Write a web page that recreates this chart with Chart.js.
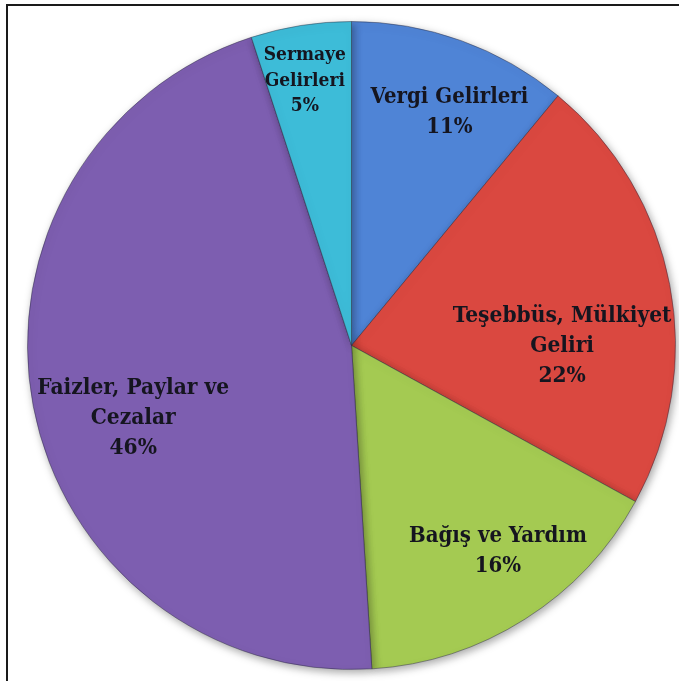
<!DOCTYPE html>
<html>
<head>
<meta charset="utf-8">
<script src="https://cdn.jsdelivr.net/npm/chart.js@4"></script>
<style>
  html, body { margin: 0; padding: 0; background: #fff; }
  #wrap { position: relative; width: 679px; height: 681px; overflow: hidden; }
  #frame { position: absolute; left: 6px; top: 4px; width: 700px; height: 700px;
           border-left: 2px solid #1a1a1a; border-top: 2px solid #1a1a1a; }
  canvas { position: absolute; left: 0; top: 0; }
</style>
</head>
<body>
<div id="wrap">
  <div id="frame"></div>
  <canvas id="gelirChart" width="679" height="681"></canvas>
</div>
<script>
// Gelir dağılımı
const labels = ['Vergi Gelirleri', 'Teşebbüs, Mülkiyet Geliri', 'Bağış ve Yardım', 'Faizler, Paylar ve Cezalar', 'Sermaye Gelirleri'];
const values = [11, 22, 16, 46, 5];
// etiket satırları (dilim içinde)
const labelLines = [
    ['Vergi Gelirleri'],
    ['Teşebbüs, Mülkiyet', 'Geliri'],
    ['Bağış ve Yardım'],
    ['Faizler, Paylar ve', 'Cezalar'],
    ['Sermaye', 'Gelirleri']
];

// renkler: [iç, orta, kenar]
const sliceColors = [
    ['#5a93e3', '#4f84d6', '#3b68b0'],
    ['#e8564e', '#da4840', '#b13730'],
    ['#bbe660', '#a4ca52', '#82a53c'],
    ['#8a69bd', '#7d5eb0', '#634590'],
    ['#48cde8', '#3dbcd8', '#2c9ab8']
];
// etiket yerleşimi: [yarıçap oranı, açı kayması (derece), yazı boyu]
const labelPlace = [[0.78, 3, 22], [0.65, 11, 22.5], [0.78, -3, 22], [0.71, -7.6, 22.5], [0.83, -1, 19]];
const labelFont = '"DejaVu Serif Condensed", "DejaVu Serif", serif';

function sliceFill(context) {
    const chart = context.chart;
    const arc = chart.getDatasetMeta(0).data[context.dataIndex];
    const c = sliceColors[context.dataIndex];
    if (!arc || !arc.outerRadius) return c[1];
    const g = chart.ctx.createRadialGradient(arc.x, arc.y, 0, arc.x, arc.y, arc.outerRadius);
    g.addColorStop(0, c[0]);
    g.addColorStop(0.55, c[1]);
    g.addColorStop(0.93, c[1]);
    g.addColorStop(1, c[2]);
    return g;
}

// dilimlerin altına yumuşak gölge
const shadowPlugin = {
    id: 'pieShadow',
    beforeDatasetsDraw(chart) {
        const ctx = chart.ctx;
        ctx.save();
        ctx.shadowColor = 'rgba(0,0,0,0.35)';
        ctx.shadowBlur = 8;
        ctx.shadowOffsetX = 2;
        ctx.shadowOffsetY = 3;
    },
    afterDatasetsDraw(chart) {
        chart.ctx.restore();
    }
};

// dilim etiketleri + yüzde
const sliceLabels = {
    id: 'sliceLabels',
    afterDatasetsDraw(chart) {
        const ctx = chart.ctx;
        const meta = chart.getDatasetMeta(0);
        const total = values.reduce((a, b) => a + b, 0);
        ctx.save();
        ctx.textAlign = 'center';
        ctx.textBaseline = 'middle';
        ctx.fillStyle = '#15151f';
        meta.data.forEach((arc, i) => {
            const [rf, shift, size] = labelPlace[i];
            const mid = (arc.startAngle + arc.endAngle) / 2 + shift * Math.PI / 180;
            const r = arc.outerRadius * rf;
            const x = arc.x + Math.cos(mid) * r;
            const y = arc.y + Math.sin(mid) * r;
            const lines = labelLines[i].concat([Math.round(values[i] / total * 100) + '%']);
            const lh = Math.min(size * 1.36, 30);
            ctx.font = 'bold ' + size + 'px ' + labelFont;
            lines.forEach((t, k) => {
                ctx.fillText(t, x, y + (k - (lines.length - 1) / 2) * lh);
            });
        });
        ctx.restore();
    }
};

const ctx = document.getElementById('gelirChart').getContext('2d');
const gelirChart = new Chart(ctx, {
    type: 'pie',
    data: {
        labels: labels,
        datasets: [{
            data: values,
            backgroundColor: sliceFill,
            borderColor: 'rgba(40,40,60,0.45)',
            borderWidth: 1
        }]
    },
    options: {
        responsive: false,
        animation: false,
        rotation: 0,
        layout: { padding: { left: 26, right: 2, top: 21, bottom: 11 } },
        plugins: {
            legend: { display: false },
            tooltip: { enabled: false }
        }
    },
    plugins: [shadowPlugin, sliceLabels]
});
</script>
</body>
</html>
